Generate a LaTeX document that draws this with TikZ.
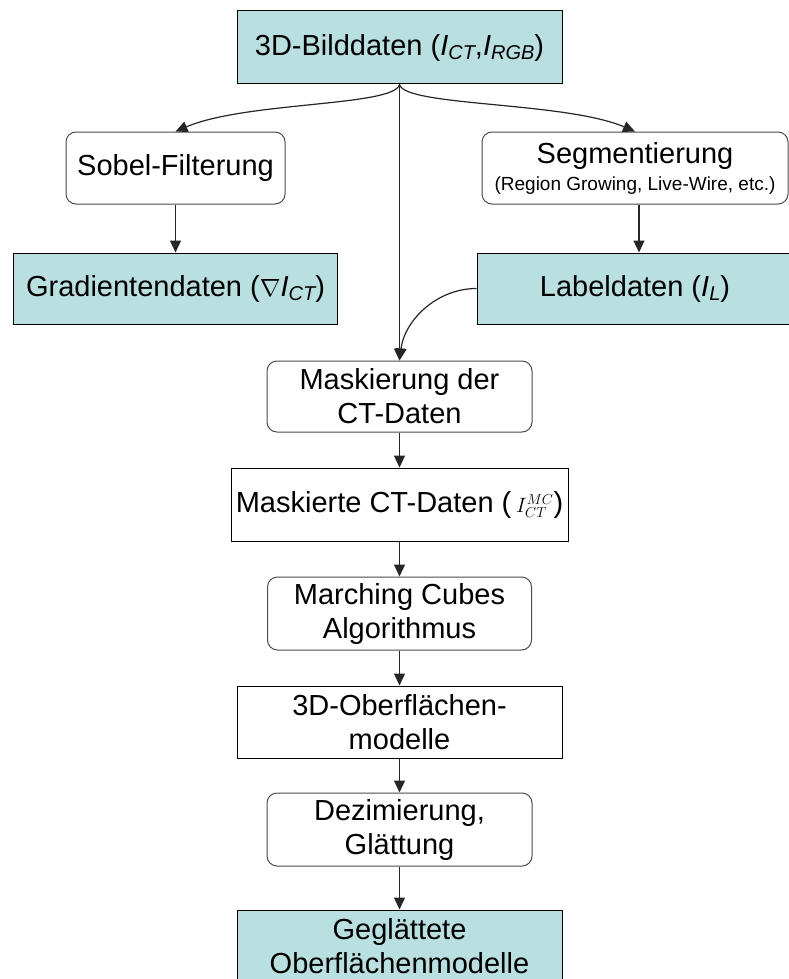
\documentclass[tikz,border=0pt]{standalone}
\usepackage{fontspec}
\setmainfont{Liberation Sans}
\usetikzlibrary{arrows.meta}
\definecolor{tealfill}{RGB}{185,223,225}
\newcommand{\Isub}[1]{\textit{I}\raisebox{-0.32ex}{\fontsize{20}{20}\selectfont\itshape #1}}
\newcommand{\subfontseg}{\fontsize{19}{21}\selectfont}
\begin{document}
\begin{tikzpicture}[x=1pt,y=-1pt,
  every node/.style={font=\fontsize{29}{34}\selectfont, align=center, inner sep=0pt},
  plainbox/.style={draw=black, line width=1pt, fill=white},
  roundbox/.style={draw=black!70, line width=1pt, fill=white, rounded corners=10pt},
  tealbox/.style={draw=black, line width=1pt, fill=tealfill},
  conn/.style={draw=black!85, line width=1.2pt, -{Triangle[length=12pt,width=11pt]}}]
\useasboundingbox (0,0) rectangle (789,979);
\clip (0,0) rectangle (789,979);
\fill[white] (0,0) rectangle (789,979);

\node[tealbox, minimum width=325pt, minimum height=73pt] (top) at (399.5,47.5) {3D-Bilddaten (\Isub{CT},\Isub{RGB})};
\node[roundbox, minimum width=219pt, minimum height=72pt] (sobel) at (175.5,168) {Sobel-Filterung};
\node[roundbox, minimum width=306pt, minimum height=72pt] (segm) at (635,168) {Segmentierung\\[-7pt]{\subfontseg (Region Growing, Live-Wire, etc.)}};
\node[tealbox, minimum width=324pt, minimum height=71pt] (grad) at (175.5,288.5) {Gradientendaten ($\nabla$\Isub{CT})};
\node[tealbox, minimum width=316pt, minimum height=71pt] (label) at (635,288.5) {Labeldaten (\Isub{L})};
\node[roundbox, minimum width=265pt, minimum height=71pt] (mask) at (399.5,396.5) {Maskierung der\\CT-Daten};
\node[plainbox, minimum width=337pt, minimum height=73pt] (mct) at (399.5,504.5) {Maskierte CT-Daten (\,{\fontsize{21}{21}\selectfont$I^{MC}_{CT}$})};
\node[roundbox, minimum width=264pt, minimum height=73pt] (mc) at (399.5,613.5) {Marching Cubes\\Algorithmus};
\node[plainbox, minimum width=325pt, minimum height=72pt] (surf) at (399.5,722) {3D-Oberflächen-\\modelle};
\node[roundbox, minimum width=265pt, minimum height=73pt] (dez) at (399.5,829.5) {Dezimierung,\\Glättung};
\node[tealbox, minimum width=325pt, minimum height=73pt] (smooth) at (399.5,946.5) {Geglättete\\Oberflächenmodelle};

\draw[conn] (top.south) .. controls +(-5,22) and +(70,-30) .. (sobel.north);
\draw[conn] (top.south) .. controls +(5,22) and +(-70,-30) .. (segm.north);
\draw[conn] (top.south) -- (mask.north);
\draw[conn] (sobel.south) -- (grad.north);
\draw[conn] ([xshift=4pt]segm.south) -- ([xshift=4pt]segm.south |- label.north);
\draw[conn] (label.west) .. controls +(-40,0) and +(5,-40) .. (mask.north);
\draw[conn] (mask.south) -- (mct.north);
\draw[conn] (mct.south) -- (mc.north);
\draw[conn] (mc.south) -- (surf.north);
\draw[conn] (surf.south) -- (dez.north);
\draw[conn] (dez.south) -- (smooth.north);
\end{tikzpicture}
\end{document}
